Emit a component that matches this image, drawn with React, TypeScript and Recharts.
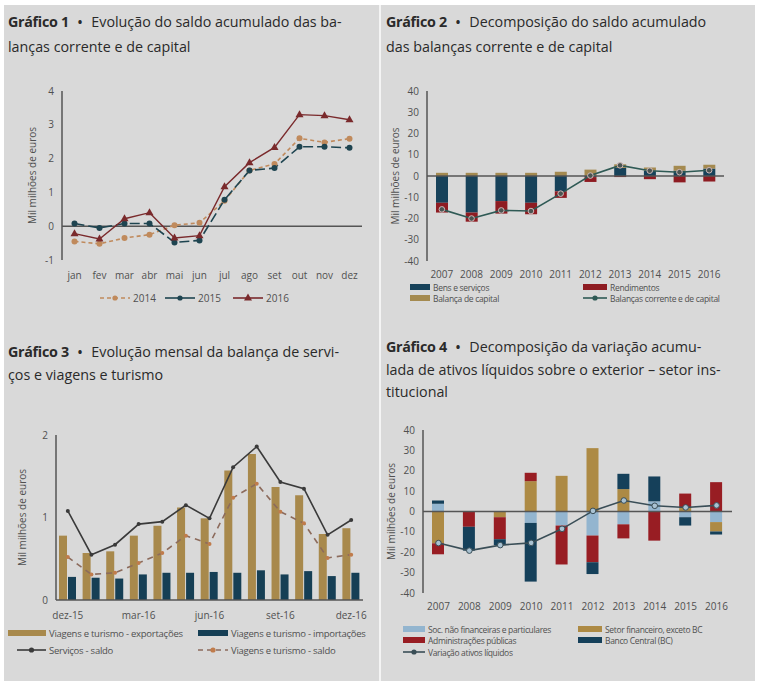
import React from 'react';
import { LineChart, Line, XAxis, YAxis, ReferenceLine, ComposedChart, Bar } from 'recharts';

const FONT = '"Open Sans", sans-serif';
const TXT = '#505050';
const AXIS = '#555555';

// Gráfico 1
const meses = ['jan', 'fev', 'mar', 'abr', 'mai', 'jun', 'jul', 'ago', 'set', 'out', 'nov', 'dez'];
const saldo2014 = [-0.45, -0.52, -0.35, -0.25, 0.03, 0.1, 0.75, 1.65, 1.84, 2.6, 2.48, 2.59];
const saldo2015 = [0.08, -0.05, 0.08, 0.08, -0.48, -0.42, 0.78, 1.65, 1.72, 2.35, 2.35, 2.32];
const saldo2016 = [-0.22, -0.38, 0.22, 0.4, -0.35, -0.28, 1.17, 1.88, 2.33, 3.3, 3.27, 3.15];

// Gráfico 2
const anos = ['2007', '2008', '2009', '2010', '2011', '2012', '2013', '2014', '2015', '2016'];
const bensServicos = [-12.6, -17.2, -11.8, -12.6, -7.2, -0.5, 3.8, 2.5, 2.5, 3.5];
const rendimentos = [-4.6, -4.3, -5.9, -5.4, -3.1, -2.3, -0.5, -1.5, -3.0, -2.6];
const balancaCapital = [1.5, 1.5, 1.5, 1.5, 2.0, 3.0, 1.7, 1.5, 2.3, 1.8];
const balancasCorrenteCapital = [-15.7, -20.0, -16.2, -16.5, -8.3, 0.2, 5.0, 2.5, 1.8, 2.7];

// Gráfico 3
const meses16 = ['dez-15', 'jan-16', 'fev-16', 'mar-16', 'abr-16', 'mai-16', 'jun-16', 'jul-16', 'ago-16', 'set-16', 'out-16', 'nov-16', 'dez-16'];
const viagensExportacoes = [0.78, 0.57, 0.59, 0.78, 0.9, 1.12, 0.99, 1.57, 1.77, 1.37, 1.27, 0.8, 0.87];
const viagensImportacoes = [0.28, 0.27, 0.26, 0.31, 0.33, 0.33, 0.34, 0.33, 0.36, 0.31, 0.35, 0.29, 0.33];
const servicosSaldo = [1.08, 0.55, 0.67, 0.92, 0.95, 1.15, 0.99, 1.61, 1.86, 1.43, 1.35, 0.79, 0.97];
const viagensSaldo = [0.52, 0.31, 0.33, 0.45, 0.57, 0.78, 0.68, 1.24, 1.41, 1.07, 0.93, 0.51, 0.55];

// Gráfico 4
const socNaoFinanceiras = [3.8, 0, 0, -5.6, -6.9, -11.8, -6.3, 5.0, -2.8, -5.2];
const setorFinanceiro = [-15.6, 0, -2.8, 14.9, 17.5, 31.1, 11.0, 0, 2.0, -4.6];
const adminPublicas = [-5.4, -7.5, -10.8, 4.1, -19.1, -13.1, -6.9, -14.3, 6.8, 14.4];
const bancoCentral = [1.6, -11.7, -2.9, -28.8, 0, -5.8, 7.5, 12.2, -4.1, -1.5];
const variacaoAtivos = [-15.5, -19.2, -16.5, -15.4, -8.5, 0.3, 5.4, 2.8, 2.0, 3.0];

const data1 = meses.map((m, i) => ({ m, a: saldo2014[i], b: saldo2015[i], c: saldo2016[i] }));
const data2 = anos.map((y, i) => ({ y, bens: bensServicos[i], rend: rendimentos[i], cap: balancaCapital[i], tot: balancasCorrenteCapital[i] }));
const data3 = meses16.map((m, i) => ({ m, exp: viagensExportacoes[i], imp: viagensImportacoes[i], serv: servicosSaldo[i], viag: viagensSaldo[i] }));
const data4 = anos.map((y, i) => ({ y, soc: socNaoFinanceiras[i], fin: setorFinanceiro[i], adm: adminPublicas[i], bc: bancoCentral[i], tot: variacaoAtivos[i] }));

const tick = { fontSize: 10, fill: TXT, fontFamily: FONT };
const yLabel = (dx: number) => ({
  value: 'Mil milhões de euros', angle: -90, position: 'center' as const, dx,
  style: { fontSize: 10, fill: TXT, fontFamily: FONT, textAnchor: 'middle' as const },
});

const Triangle = (props: any) => {
  const { cx, cy } = props;
  if (cx == null || cy == null) return <g />;
  return <polygon points={`${cx},${cy - 4.5} ${cx - 4},${cy + 2.5} ${cx + 4},${cy + 2.5}`} fill="#7a2a2c" />;
};

function Title({ x, y, lh, num, lines }: { x: number; y: number; lh: number; num: string; lines: string[] }) {
  return (
    <div style={{ position: 'absolute', left: x, top: y, fontSize: 14.3, letterSpacing: 0, lineHeight: `${lh}px`, color: '#2a2a2a', whiteSpace: 'nowrap' }}>
      {lines.map((l, i) => (
        <div key={i}>
          {i === 0 && <span style={{ fontWeight: 700, letterSpacing: -0.3 }}>{`Gráfico ${num}`}</span>}
          {i === 0 && <span style={{ fontWeight: 700, fontSize: 12, margin: '0 9px 0 9px' }}>{'\u2022'}</span>}
          {l}
        </div>
      ))}
    </div>
  );
}

type Sw = { kind: 'rect' | 'line'; color: string; dash?: string; dot?: string; tri?: boolean };

function Leg({ x, y, sw, label, fs = 9, ls = 0, w = 28 }: { x: number; y: number; sw: Sw; label: string; fs?: number; ls?: number; w?: number }) {
  return (
    <div style={{ position: 'absolute', left: x, top: y - 6, height: 12, display: 'flex', alignItems: 'center', whiteSpace: 'nowrap' }}>
      <svg width={w} height={12} style={{ display: 'block' }}>
        {sw.kind === 'rect' ? (
          <rect x={0} y={3} width={w} height={6} fill={sw.color} />
        ) : (
          <>
            <line x1={0} x2={w} y1={6} y2={6} stroke={sw.color} strokeWidth={1.6} strokeDasharray={sw.dash} />
            {sw.tri ? (
              <polygon points={`${w / 2},1.5 ${w / 2 - 4},8.5 ${w / 2 + 4},8.5`} fill={sw.color} />
            ) : sw.dot ? (
              <circle cx={w / 2} cy={6} r={2.6} fill={sw.dot} />
            ) : null}
          </>
        )}
      </svg>
      <span style={{ fontSize: fs, color: TXT, marginLeft: 3, letterSpacing: ls }}>{label}</span>
    </div>
  );
}

export default function App() {
  return (
    <div style={{ position: 'absolute', left: 0, top: 0, width: 761, height: 687, background: '#fff', fontFamily: FONT, overflow: 'hidden' }}>
      <div style={{ position: 'absolute', left: 4, top: 5, width: 751, height: 676, background: '#d9d9d9' }} />
      <div style={{ position: 'absolute', left: 379, top: 5, width: 2, height: 676, background: '#f4f4f4' }} />

      <Title x={8} y={10} lh={24} num="1" lines={['Evolução do saldo acumulado das ba-', 'lanças corrente e de capital']} />
      <Title x={386} y={10} lh={24} num="2" lines={['Decomposição do saldo acumulado', 'das balanças corrente e de capital']} />
      <Title x={8} y={341} lh={22} num="3" lines={['Evolução mensal da balança de servi-', 'ços e viagens e turismo']} />
      <Title x={386} y={336} lh={22} num="4" lines={['Decomposição da variação acumu-', 'lada de ativos líquidos sobre o exterior – setor ins-', 'titucional']} />

      {/* Gráfico 1 */}
      <div style={{ position: 'absolute', left: 0, top: 80 }}>
        <LineChart width={380} height={210} data={data1} margin={{ top: 11, right: 18, left: 0, bottom: 0 }}>
          <XAxis dataKey="m" scale="band" axisLine={false} tickLine={false} tick={tick} height={30} tickMargin={6} interval={0} />
          <YAxis width={62} domain={[-1, 4]} ticks={[-1, 0, 1, 2, 3, 4]} tickLine={false} axisLine={{ stroke: AXIS, strokeWidth: 1.5 }} tick={tick} label={yLabel(1)} />
          <ReferenceLine y={0} stroke={AXIS} strokeWidth={1.5} />
          <Line dataKey="a" stroke="#c08a5c" strokeWidth={1.6} strokeDasharray="4 3" dot={{ r: 3, fill: '#c08a5c', stroke: 'none' }} isAnimationActive={false} />
          <Line dataKey="b" stroke="#1e4450" strokeWidth={1.6} strokeDasharray="10 4" dot={{ r: 3, fill: '#1e4450', stroke: 'none' }} isAnimationActive={false} />
          <Line dataKey="c" stroke="#7a2a2c" strokeWidth={1.4} dot={<Triangle />} isAnimationActive={false} />
        </LineChart>
      </div>
      <Leg x={100} y={298} w={30} sw={{ kind: 'line', color: '#c08a5c', dash: '4 3', dot: '#c08a5c' }} label="2014" fs={10} />
      <Leg x={165} y={298} w={30} sw={{ kind: 'line', color: '#1e4450', dot: '#1e4450' }} label="2015" fs={10} />
      <Leg x={233} y={298} w={30} sw={{ kind: 'line', color: '#7a2a2c', tri: true }} label="2016" fs={10} />

      {/* Gráfico 2 */}
      <div style={{ position: 'absolute', left: 380, top: 80 }}>
        <ComposedChart width={381} height={210} data={data2} stackOffset="sign" margin={{ top: 11, right: 37, left: 0, bottom: 0 }}>
          <XAxis dataKey="y" axisLine={false} tickLine={false} tick={tick} height={29} tickMargin={4} interval={0} />
          <YAxis width={47} domain={[-40, 40]} ticks={[-40, -30, -20, -10, 0, 10, 20, 30, 40]} tickLine={false} axisLine={{ stroke: AXIS, strokeWidth: 1.5 }} tick={tick} label={yLabel(-8)} />
          <Bar dataKey="bens" stackId="s" fill="#17425a" barSize={12} isAnimationActive={false} />
          <Bar dataKey="rend" stackId="s" fill="#8e1c22" barSize={12} isAnimationActive={false} />
          <Bar dataKey="cap" stackId="s" fill="#a48a50" barSize={12} isAnimationActive={false} />
          <ReferenceLine y={0} stroke={AXIS} strokeWidth={1.5} />
          <Line dataKey="tot" stroke="#2f5a55" strokeWidth={1.6} dot={{ r: 2.8, fill: '#4a5552', stroke: '#d0b8b8', strokeWidth: 1 }} isAnimationActive={false} />
        </ComposedChart>
      </div>
      <Leg x={410} y={287} w={20} sw={{ kind: 'rect', color: '#17425a' }} label="Bens e serviços" fs={8.5} ls={-0.3} />
      <Leg x={583} y={287} w={24} sw={{ kind: 'rect', color: '#8e1c22' }} label="Rendimentos" fs={8.5} ls={-0.3} />
      <Leg x={410} y={298} w={20} sw={{ kind: 'rect', color: '#a48a50' }} label="Balança de capital" fs={8.5} ls={-0.3} />
      <Leg x={583} y={298} w={24} sw={{ kind: 'line', color: '#2f5a55', dot: '#2f5a55' }} label="Balanças corrente e de capital" fs={8.5} ls={-0.3} />

      {/* Gráfico 3 */}
      <div style={{ position: 'absolute', left: 0, top: 425 }}>
        <ComposedChart width={380} height={205} data={data3} barGap={1} margin={{ top: 10, right: 17, left: 0, bottom: 0 }}>
          <XAxis dataKey="m" axisLine={{ stroke: AXIS, strokeWidth: 1.5 }} tickLine={false} tick={tick} height={30} tickMargin={6} interval={2} />
          <YAxis width={56} domain={[0, 2]} ticks={[0, 1, 2]} tickLine={false} axisLine={{ stroke: AXIS, strokeWidth: 1.5 }} tick={tick} label={yLabel(-6)} />
          <Bar dataKey="exp" fill="#a8894c" barSize={8} isAnimationActive={false} />
          <Bar dataKey="imp" fill="#163f55" barSize={8} isAnimationActive={false} />
          <Line dataKey="serv" stroke="#3a3a3a" strokeWidth={1.6} dot={{ r: 2, fill: '#3a3a3a', stroke: 'none' }} isAnimationActive={false} />
          <Line dataKey="viag" stroke="#8c6b5c" strokeWidth={1.6} strokeDasharray="6 5" dot={{ r: 2, fill: '#c07c4c', stroke: 'none' }} isAnimationActive={false} />
        </ComposedChart>
      </div>
      <Leg x={8} y={633} w={38} sw={{ kind: 'rect', color: '#a8894c' }} label="Viagens e turismo - exportações" fs={9.5} ls={-0.25} />
      <Leg x={198} y={633} w={30} sw={{ kind: 'rect', color: '#163f55' }} label="Viagens e turismo - importações" fs={9.5} ls={-0.25} />
      <Leg x={17} y={650} w={29} sw={{ kind: 'line', color: '#3a3a3a', dot: '#3a3a3a' }} label="Serviços - saldo" fs={9.5} ls={-0.25} />
      <Leg x={198} y={650} w={30} sw={{ kind: 'line', color: '#8c6b5c', dash: '5 4', dot: '#c07c4c' }} label="Viagens e turismo - saldo" fs={9.5} ls={-0.25} />

      {/* Gráfico 4 */}
      <div style={{ position: 'absolute', left: 380, top: 420 }}>
        <ComposedChart width={381} height={200} data={data4} stackOffset="sign" margin={{ top: 10, right: 29, left: 0, bottom: 0 }}>
          <XAxis dataKey="y" axisLine={false} tickLine={false} tick={tick} height={27} tickMargin={4} interval={0} />
          <YAxis width={43} domain={[-40, 40]} ticks={[-40, -30, -20, -10, 0, 10, 20, 30, 40]} tickLine={false} axisLine={{ stroke: AXIS, strokeWidth: 1.5 }} tick={tick} label={yLabel(-10)} />
          <Bar dataKey="soc" stackId="s" fill="#93b5cf" barSize={12} isAnimationActive={false} />
          <Bar dataKey="fin" stackId="s" fill="#ad8a44" barSize={12} isAnimationActive={false} />
          <Bar dataKey="adm" stackId="s" fill="#981d23" barSize={12} isAnimationActive={false} />
          <Bar dataKey="bc" stackId="s" fill="#15405a" barSize={12} isAnimationActive={false} />
          <ReferenceLine y={0} stroke={AXIS} strokeWidth={1.5} />
          <Line dataKey="tot" stroke="#3a4e57" strokeWidth={1.6} dot={{ r: 2.8, fill: '#a9c2d2', stroke: '#3a4e57', strokeWidth: 1 }} isAnimationActive={false} />
        </ComposedChart>
      </div>
      <Leg x={403} y={629} w={22} sw={{ kind: 'rect', color: '#93b5cf' }} label="Soc. não financeiras e particulares" fs={8.5} ls={-0.35} />
      <Leg x={578} y={629} w={24} sw={{ kind: 'rect', color: '#ad8a44' }} label="Setor financeiro, exceto BC" fs={8.5} ls={-0.35} />
      <Leg x={403} y={640} w={22} sw={{ kind: 'rect', color: '#981d23' }} label="Administrações públicas" fs={8.5} ls={-0.35} />
      <Leg x={578} y={640} w={24} sw={{ kind: 'rect', color: '#15405a' }} label="Banco Central (BC)" fs={8.5} ls={-0.35} />
      <Leg x={403} y={652} w={22} sw={{ kind: 'line', color: '#3a4e57', dot: '#3a4e57' }} label="Variação ativos líquidos" fs={8.5} ls={-0.35} />
    </div>
  );
}
